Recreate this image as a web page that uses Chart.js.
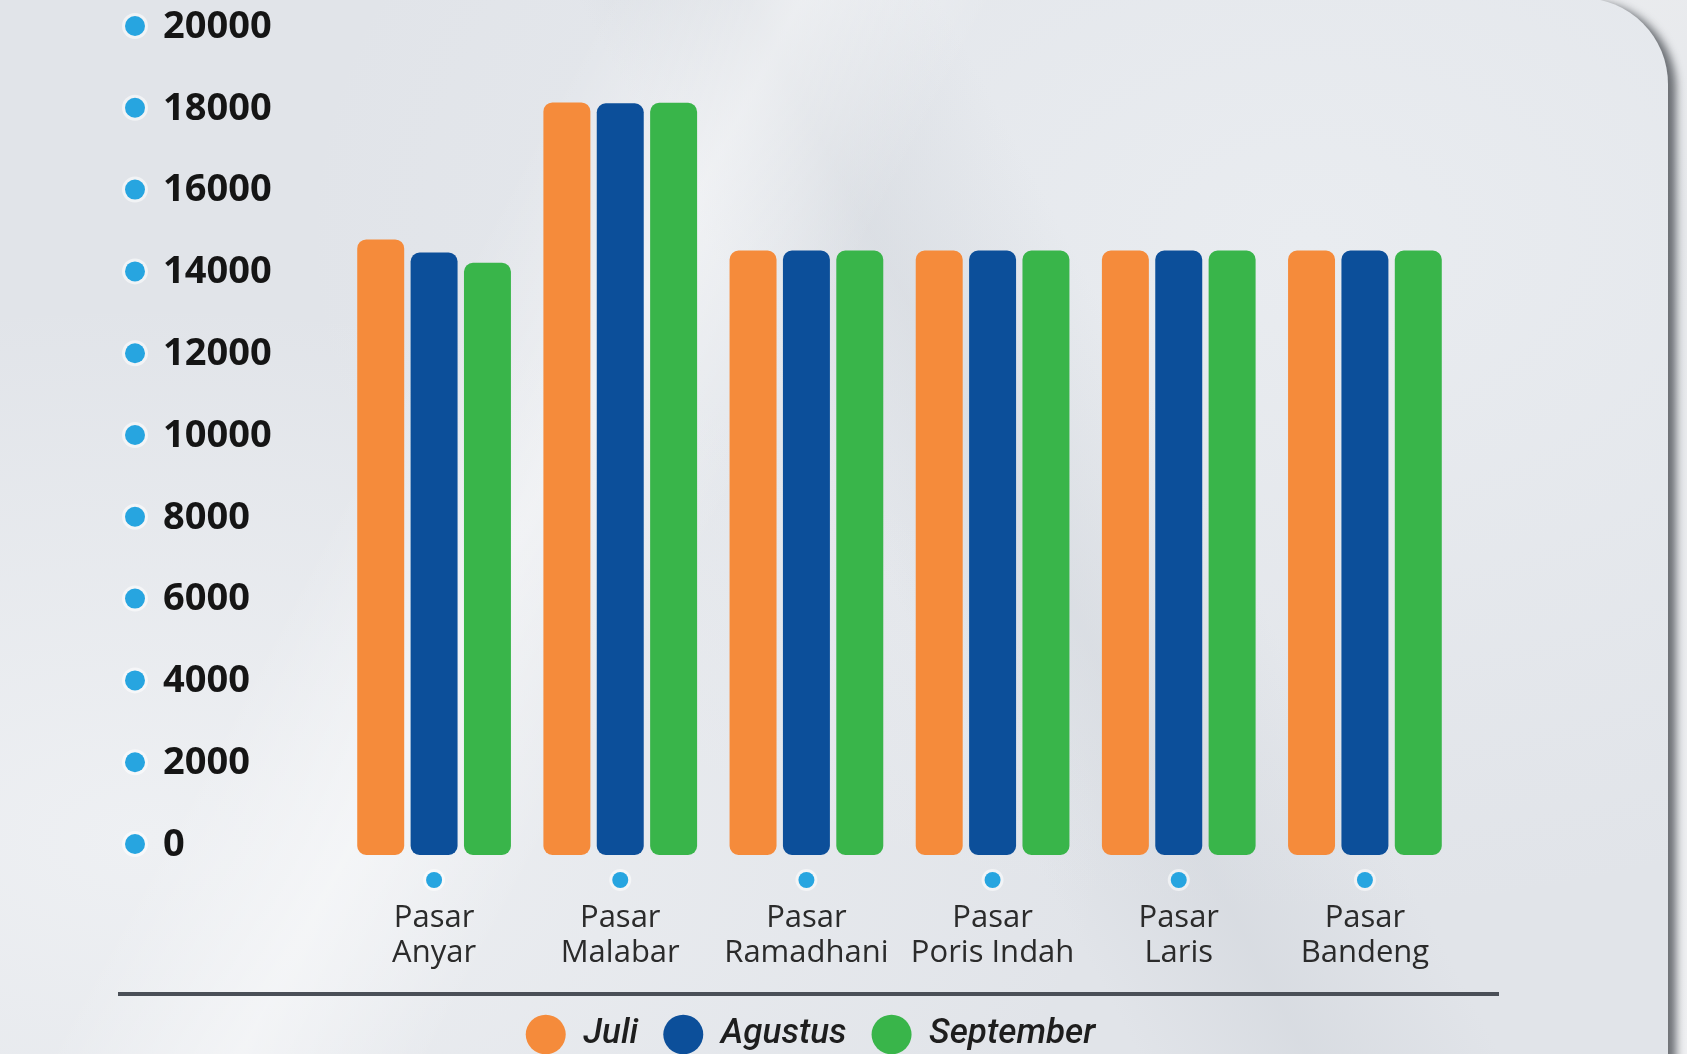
<!DOCTYPE html>
<html>
<head>
<meta charset="utf-8">
<script src="https://cdn.jsdelivr.net/npm/chart.js@4.4.1/dist/chart.umd.min.js"></script>
<style>
  html, body { margin: 0; padding: 0; }
  body {
    width: 1687px; height: 1054px; overflow: hidden; position: relative;
    background: linear-gradient(160deg, #f1f2f4 0%, #e6e8eb 50%, #eff0f2 100%);
  }
  .card {
    position: absolute; left: -120px; top: -2px; width: 1788px; height: 1200px;
    border-top-right-radius: 86px;
    background:
      linear-gradient(118deg, rgba(255,255,255,0) 30%, rgba(255,255,255,0.45) 38%, rgba(255,255,255,0) 46%),
      linear-gradient(62deg, rgba(200,205,212,0) 55%, rgba(200,205,212,0.35) 62%, rgba(200,205,212,0) 70%),
      radial-gradient(ellipse at 15% 70%, #eef0f3 0%, rgba(238,240,243,0) 45%),
      radial-gradient(ellipse at 80% 20%, #e9ecf0 0%, rgba(233,236,240,0) 50%),
      #e1e4e9;
    box-shadow: 8px 4px 8px rgba(40,44,50,0.65);
  }
  #wrap { position: absolute; left: 0; top: 0; width: 1687px; height: 1054px; }
</style>
</head>
<body>
<div class="card"></div>
<div id="wrap"><canvas id="chart" width="1687" height="1054"></canvas></div>
<script>
// data
const categories = [
  ['Pasar', 'Anyar'],
  ['Pasar', 'Malabar'],
  ['Pasar', 'Ramadhani'],
  ['Pasar', 'Poris Indah'],
  ['Pasar', 'Laris'],
  ['Pasar', 'Bandeng']
];
const juli = [15050, 18400, 14780, 14780, 14780, 14780];
const agustus = [14730, 18380, 14780, 14780, 14780, 14780];
const september = [14480, 18390, 14780, 14780, 14780, 14780];
const seriesNames = ['Juli', 'Agustus', 'September'];
const seriesColors = ['#f58b3b', '#0c4f9a', '#39b54a'];

const yMin = 0;
const yMax = 20000;
const yStep = 2000;

const DOT = '#27a5e0';

function dot(ctx, x, y, r) {
  ctx.beginPath();
  ctx.arc(x, y, r + 3, 0, Math.PI * 2);
  ctx.fillStyle = 'rgba(255,255,255,0.55)';
  ctx.fill();
  ctx.beginPath();
  ctx.arc(x, y, r, 0, Math.PI * 2);
  ctx.fillStyle = DOT;
  ctx.fill();
}

// blue bullets next to tick labels + the rule above the legend
const decor = {
  id: 'decor',
  afterDraw(chart) {
    const { ctx, scales: { x, y } } = chart;
    ctx.save();
    y.ticks.forEach((t, i) => dot(ctx, 135, y.getPixelForTick(i) - 11, 10));
    x.ticks.forEach((t, i) => dot(ctx, x.getPixelForTick(i), x.top + 25, 8));
    ctx.strokeStyle = '#4a4f57';
    ctx.lineWidth = 4;
    ctx.beginPath();
    ctx.moveTo(118, 994);
    ctx.lineTo(1499, 994);
    ctx.stroke();
    ctx.restore();
  }
};

const datasets = [juli, agustus, september].map((data, i) => ({
  label: seriesNames[i],
  data,
  backgroundColor: seriesColors[i],
  borderRadius: 9,
  borderSkipped: false,
  barPercentage: 0.88,
  categoryPercentage: 0.86
}));

new Chart(document.getElementById('chart').getContext('2d'), {
  type: 'bar',
  data: { labels: categories, datasets },
  options: {
    responsive: false,
    animation: false,
    layout: { padding: { left: 163, right: 229, top: 37, bottom: -8 } },
    scales: {
      x: {
        grid: { display: false },
        border: { display: false },
        ticks: {
          padding: 37,
          color: '#2b2b2b',
          font: { family: '"Open Sans", sans-serif', size: 31, lineHeight: 1.15 }
        },
        afterFit(scale) { scale.height = 137; }
      },
      y: {
        min: yMin,
        max: yMax,
        grid: { display: false },
        border: { display: false },
        ticks: {
          stepSize: yStep,
          crossAlign: 'far',
          labelOffset: -10,
          color: '#151515',
          font: { family: '"Open Sans", sans-serif', size: 38, weight: '700' },
          callback: v => String(v)
        },
        afterFit(scale) { scale.width = 178; }
      }
    },
    plugins: {
      tooltip: { enabled: false },
      legend: {
        position: 'bottom',
        labels: {
          usePointStyle: true,
          pointStyle: 'circle',
          boxHeight: 28,
          pointStyleWidth: 40,
          padding: 25,
          color: '#1e1e1e',
          font: { family: 'Roboto, sans-serif', size: 35, style: 'italic', weight: '500' }
        }
      }
    }
  },
  plugins: [decor]
});
</script>
</body>
</html>
